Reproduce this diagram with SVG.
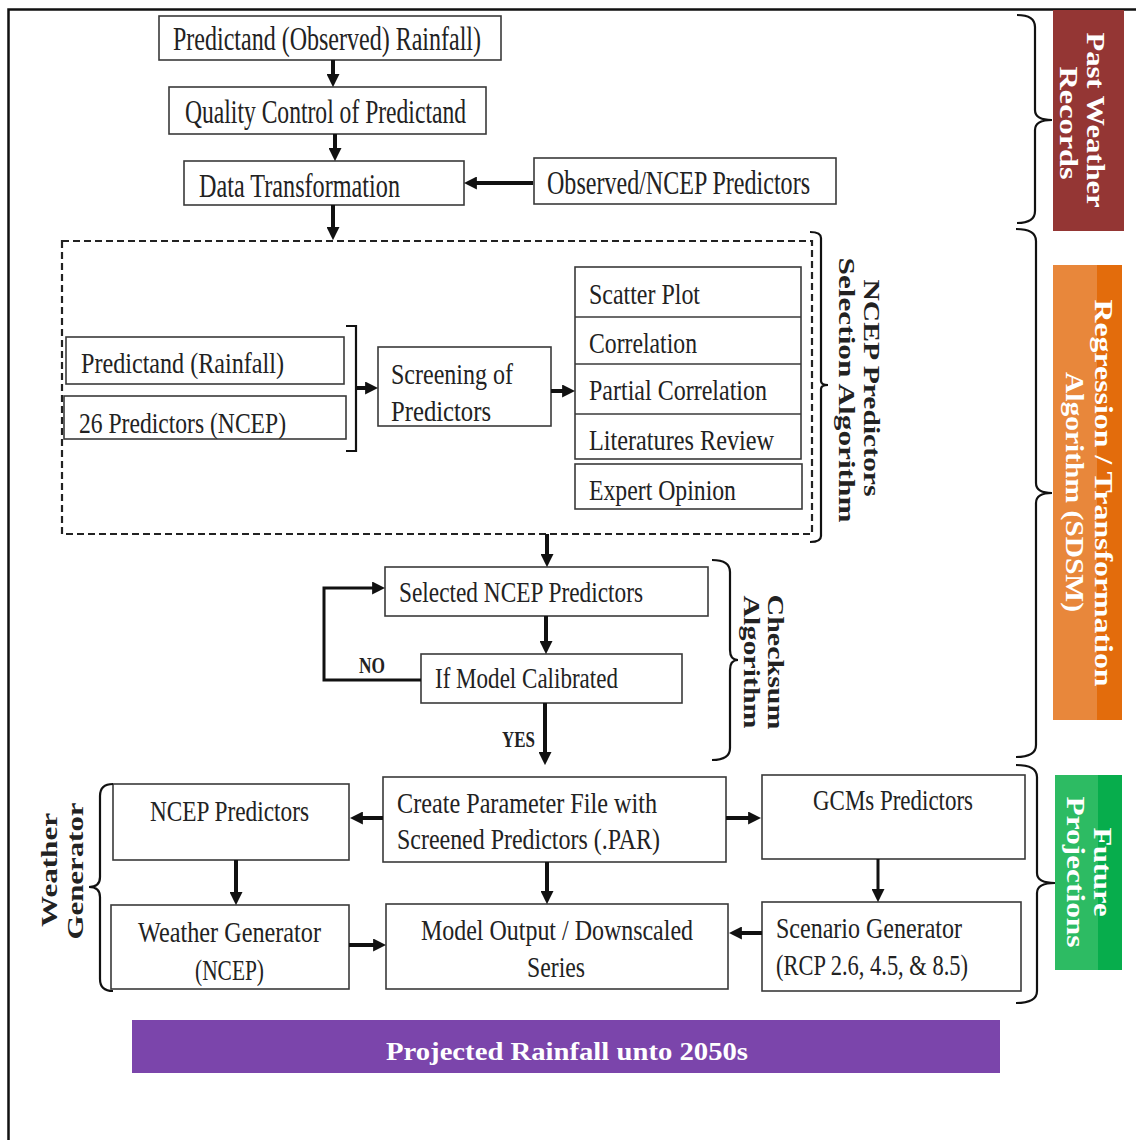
<svg xmlns="http://www.w3.org/2000/svg" width="1136" height="1140" viewBox="0 0 1136 1140">
<style>
.bx{fill:#fff;stroke:#3a3a3a;stroke-width:1.6}
.t{font-family:"Liberation Serif",serif;font-size:30px;fill:#222}
.tl{font-family:"Liberation Serif",serif;font-size:33px;fill:#222}
.b{font-family:"Liberation Serif",serif;font-weight:bold;font-size:26px}
.lb{font-family:"Liberation Serif",serif;font-weight:bold;font-size:24px;fill:#222}
.w{fill:#fff}
.ar{stroke:#111;stroke-width:4;fill:none;marker-end:url(#ah)}
.arn{stroke:#111;stroke-width:3;fill:none;marker-end:url(#ah)}
.br{stroke:#111;stroke-width:2.2;fill:none}
</style>
<defs>
<marker id="ah" viewBox="0 0 10 10" refX="3" refY="5" markerWidth="13" markerHeight="13" markerUnits="userSpaceOnUse" orient="auto">
<path d="M0,0 L10,5 L0,10 z" fill="#111"/>
</marker>
<linearGradient id="og" x1="0" y1="0" x2="1" y2="0">
<stop offset="0" stop-color="#E8873B"/><stop offset="0.64" stop-color="#E8873B"/><stop offset="0.64" stop-color="#E36C0C"/><stop offset="1" stop-color="#E36C0C"/>
</linearGradient>
<linearGradient id="gg" x1="0" y1="0" x2="1" y2="0">
<stop offset="0" stop-color="#2DBB63"/><stop offset="0.64" stop-color="#2DBB63"/><stop offset="0.64" stop-color="#07AD4C"/><stop offset="1" stop-color="#07AD4C"/>
</linearGradient>
</defs>
<rect x="0" y="0" width="1136" height="1140" fill="#fff"/>
<path d="M8.5,1140 V9.5 H1136" fill="none" stroke="#111" stroke-width="2.5"/>

<g id="n-predictand-observed"><rect class="bx" x="159" y="16" width="342" height="44"/><text class="tl" x="173" y="50" textLength="308" lengthAdjust="spacingAndGlyphs">Predictand (Observed) Rainfall)</text></g>
<g id="n-quality-control"><rect class="bx" x="169" y="87" width="317" height="47"/><text class="tl" x="185" y="123" textLength="281" lengthAdjust="spacingAndGlyphs">Quality Control of Predictand</text></g>
<g id="n-data-transformation"><rect class="bx" x="184" y="161" width="280" height="44"/><text class="tl" x="199" y="197" textLength="201" lengthAdjust="spacingAndGlyphs">Data Transformation</text></g>
<g id="n-observed-ncep"><rect class="bx" x="534" y="158" width="302" height="46"/><text class="tl" x="547" y="194" textLength="263" lengthAdjust="spacingAndGlyphs">Observed/NCEP Predictors</text></g>

<g id="n-selection-group"><rect x="62" y="241" width="750" height="293" fill="none" stroke="#222" stroke-width="2.2" stroke-dasharray="7,4"/></g>
<g id="n-predictand-rainfall"><rect class="bx" x="66" y="337" width="278" height="47"/><text class="t" x="81" y="373" textLength="203" lengthAdjust="spacingAndGlyphs">Predictand (Rainfall)</text></g>
<g id="n-26-predictors"><rect class="bx" x="64" y="396" width="282" height="43"/><text class="t" x="79" y="433" textLength="207" lengthAdjust="spacingAndGlyphs">26 Predictors (NCEP)</text></g>
<g id="n-screening"><rect class="bx" x="378" y="347" width="173" height="79"/><text class="t" x="391" y="384" textLength="122" lengthAdjust="spacingAndGlyphs">Screening of</text><text class="t" x="391" y="421" textLength="100" lengthAdjust="spacingAndGlyphs">Predictors</text></g>
<g id="n-methods">
<rect class="bx" x="575" y="267" width="226" height="192"/>
<line x1="575" y1="317" x2="801" y2="317" stroke="#3a3a3a" stroke-width="1.6"/>
<line x1="575" y1="364" x2="801" y2="364" stroke="#3a3a3a" stroke-width="1.6"/>
<line x1="575" y1="414" x2="801" y2="414" stroke="#3a3a3a" stroke-width="1.6"/>
<text class="t" x="589" y="304" textLength="111" lengthAdjust="spacingAndGlyphs">Scatter Plot</text>
<text class="t" x="589" y="353" textLength="108" lengthAdjust="spacingAndGlyphs">Correlation</text>
<text class="t" x="589" y="400" textLength="178" lengthAdjust="spacingAndGlyphs">Partial Correlation</text>
<text class="t" x="589" y="450" textLength="185" lengthAdjust="spacingAndGlyphs">Literatures Review</text>
</g>
<g id="n-expert-opinion"><rect class="bx" x="575" y="464" width="227" height="45"/><text class="t" x="589" y="500" textLength="147" lengthAdjust="spacingAndGlyphs">Expert Opinion</text></g>

<g id="n-selected-ncep"><rect class="bx" x="385" y="567" width="323" height="49"/><text class="t" x="399" y="602" textLength="244" lengthAdjust="spacingAndGlyphs">Selected NCEP Predictors</text></g>
<g id="n-if-model"><rect class="bx" x="421" y="654" width="261" height="49"/><text class="t" x="435" y="688" textLength="183" lengthAdjust="spacingAndGlyphs">If Model Calibrated</text></g>

<g id="n-ncep-predictors"><rect class="bx" x="113" y="784" width="236" height="76"/><text class="t" x="150" y="821" textLength="159" lengthAdjust="spacingAndGlyphs">NCEP Predictors</text></g>
<g id="n-create-par"><rect class="bx" x="383" y="777" width="343" height="85"/><text class="t" x="397" y="813" textLength="260" lengthAdjust="spacingAndGlyphs">Create Parameter File with</text><text class="t" x="397" y="849" textLength="263" lengthAdjust="spacingAndGlyphs">Screened Predictors (.PAR)</text></g>
<g id="n-gcms"><rect class="bx" x="762" y="775" width="263" height="84"/><text class="t" x="813" y="810" textLength="160" lengthAdjust="spacingAndGlyphs">GCMs Predictors</text></g>
<g id="n-weather-generator"><rect class="bx" x="111" y="905" width="238" height="84"/><text class="t" x="138" y="942" textLength="183" lengthAdjust="spacingAndGlyphs">Weather Generator</text><text class="t" x="195" y="980" textLength="69" lengthAdjust="spacingAndGlyphs">(NCEP)</text></g>
<g id="n-model-output"><rect class="bx" x="386" y="904" width="342" height="85"/><text class="t" x="421" y="940" textLength="272" lengthAdjust="spacingAndGlyphs">Model Output / Downscaled</text><text class="t" x="527" y="977" textLength="58" lengthAdjust="spacingAndGlyphs">Series</text></g>
<g id="n-scenario"><rect class="bx" x="762" y="902" width="259" height="89"/><text class="t" x="776" y="938" textLength="186" lengthAdjust="spacingAndGlyphs">Scenario Generator</text><text class="t" x="776" y="975" textLength="192" lengthAdjust="spacingAndGlyphs">(RCP 2.6, 4.5, &amp; 8.5)</text></g>

<g id="n-projected"><rect x="132" y="1020" width="868" height="53" fill="#7B45AB"/><text class="b w" x="386" y="1060" font-size="30" textLength="362" lengthAdjust="spacingAndGlyphs">Projected Rainfall unto 2050s</text></g>

<g id="n-past-weather"><rect x="1053" y="10" width="71" height="221" fill="#943634"/>
<text class="b w" transform="translate(1087,120) rotate(90)" text-anchor="middle" textLength="175" lengthAdjust="spacingAndGlyphs">Past Weather</text>
<text class="b w" transform="translate(1060,123) rotate(90)" text-anchor="middle" textLength="113" lengthAdjust="spacingAndGlyphs">Records</text></g>
<g id="n-regression"><rect x="1053" y="265" width="69" height="455" fill="url(#og)"/>
<text class="b w" transform="translate(1095,493) rotate(90)" text-anchor="middle" textLength="387" lengthAdjust="spacingAndGlyphs">Regression / Transformation</text>
<text class="b w" transform="translate(1066,492) rotate(90)" text-anchor="middle" textLength="240" lengthAdjust="spacingAndGlyphs">Algorithm (SDSM)</text></g>
<g id="n-future"><rect x="1055" y="775" width="67" height="195" fill="url(#gg)"/>
<text class="b w" transform="translate(1094,872) rotate(90)" text-anchor="middle" textLength="89" lengthAdjust="spacingAndGlyphs">Future</text>
<text class="b w" transform="translate(1067,872) rotate(90)" text-anchor="middle" textLength="151" lengthAdjust="spacingAndGlyphs">Projections</text></g>

<g id="n-ncep-selection-label">
<text class="lb" transform="translate(864,388) rotate(90)" text-anchor="middle" textLength="217" lengthAdjust="spacingAndGlyphs">NCEP Predictors</text>
<text class="lb" transform="translate(839,390) rotate(90)" text-anchor="middle" textLength="265" lengthAdjust="spacingAndGlyphs">Selection Algorithm</text></g>
<g id="n-checksum-label">
<text class="lb" transform="translate(768,662) rotate(90)" text-anchor="middle" textLength="135" lengthAdjust="spacingAndGlyphs">Checksum</text>
<text class="lb" transform="translate(744,662) rotate(90)" text-anchor="middle" textLength="133" lengthAdjust="spacingAndGlyphs">Algorithm</text></g>
<g id="n-weather-gen-label">
<text class="lb" transform="translate(57,870) rotate(-90)" text-anchor="middle" textLength="114" lengthAdjust="spacingAndGlyphs">Weather</text>
<text class="lb" transform="translate(83,871) rotate(-90)" text-anchor="middle" textLength="137" lengthAdjust="spacingAndGlyphs">Generator</text></g>

<g id="connectors">
<line class="ar" x1="333" y1="60" x2="333" y2="78"/>
<line class="ar" x1="335" y1="134" x2="335" y2="152"/>
<line class="ar" x1="533" y1="183" x2="473" y2="183"/>
<line class="ar" x1="333" y1="205" x2="333" y2="231"/>
<line class="ar" x1="356" y1="388" x2="369" y2="388"/>
<line class="ar" x1="551" y1="391" x2="566" y2="391"/>
<line class="ar" x1="547" y1="534" x2="547" y2="558"/>
<line class="ar" x1="546" y1="616" x2="546" y2="645"/>
<path class="arn" d="M421,680 H324 V588 H376"/>
<line class="ar" x1="545" y1="703" x2="545" y2="756"/>
<line class="ar" x1="383" y1="818" x2="359" y2="818"/>
<line class="ar" x1="726" y1="818" x2="752" y2="818"/>
<line class="ar" x1="236" y1="860" x2="236" y2="896"/>
<line class="ar" x1="547" y1="862" x2="547" y2="895"/>
<line class="arn" x1="878" y1="859" x2="878" y2="893"/>
<line class="ar" x1="349" y1="945" x2="377" y2="945"/>
<line class="ar" x1="762" y1="933" x2="738" y2="933"/>
<text class="lb" x="359" y="673" font-size="23" textLength="26" lengthAdjust="spacingAndGlyphs">NO</text>
<text class="lb" x="502" y="747" font-size="23" textLength="33" lengthAdjust="spacingAndGlyphs">YES</text>
<path class="br" d="M346,326 H356 V451 H346"/>
<path class="br" d="M810,232 Q821,232 821,238 L821,381 Q821,385 828,385 Q821,385 821,389 L821,536 Q821,542 810,542"/>
<path class="br" d="M712,560 Q730,560 730,572 L730,650 Q730,660 738,660 Q730,660 730,670 L730,748 Q730,760 712,760"/>
<path class="br" d="M113,784 Q100,784 100,796 L100,877 Q100,887 89,887 Q100,887 100,897 L100,979 Q100,991 113,991"/>
<path class="br" d="M1017,15 Q1035,15 1035,27 L1035,110 Q1035,120 1052,120 Q1035,120 1035,130 L1035,211 Q1035,223 1017,223"/>
<path class="br" d="M1016,229 Q1036,229 1036,241 L1036,483 Q1036,493 1052,493 Q1036,493 1036,503 L1036,745 Q1036,757 1016,757"/>
<path class="br" d="M1016,765 Q1037,765 1037,777 L1037,873 Q1037,883 1055,883 Q1037,883 1037,893 L1037,991 Q1037,1003 1016,1003"/>
</g>
</svg>
